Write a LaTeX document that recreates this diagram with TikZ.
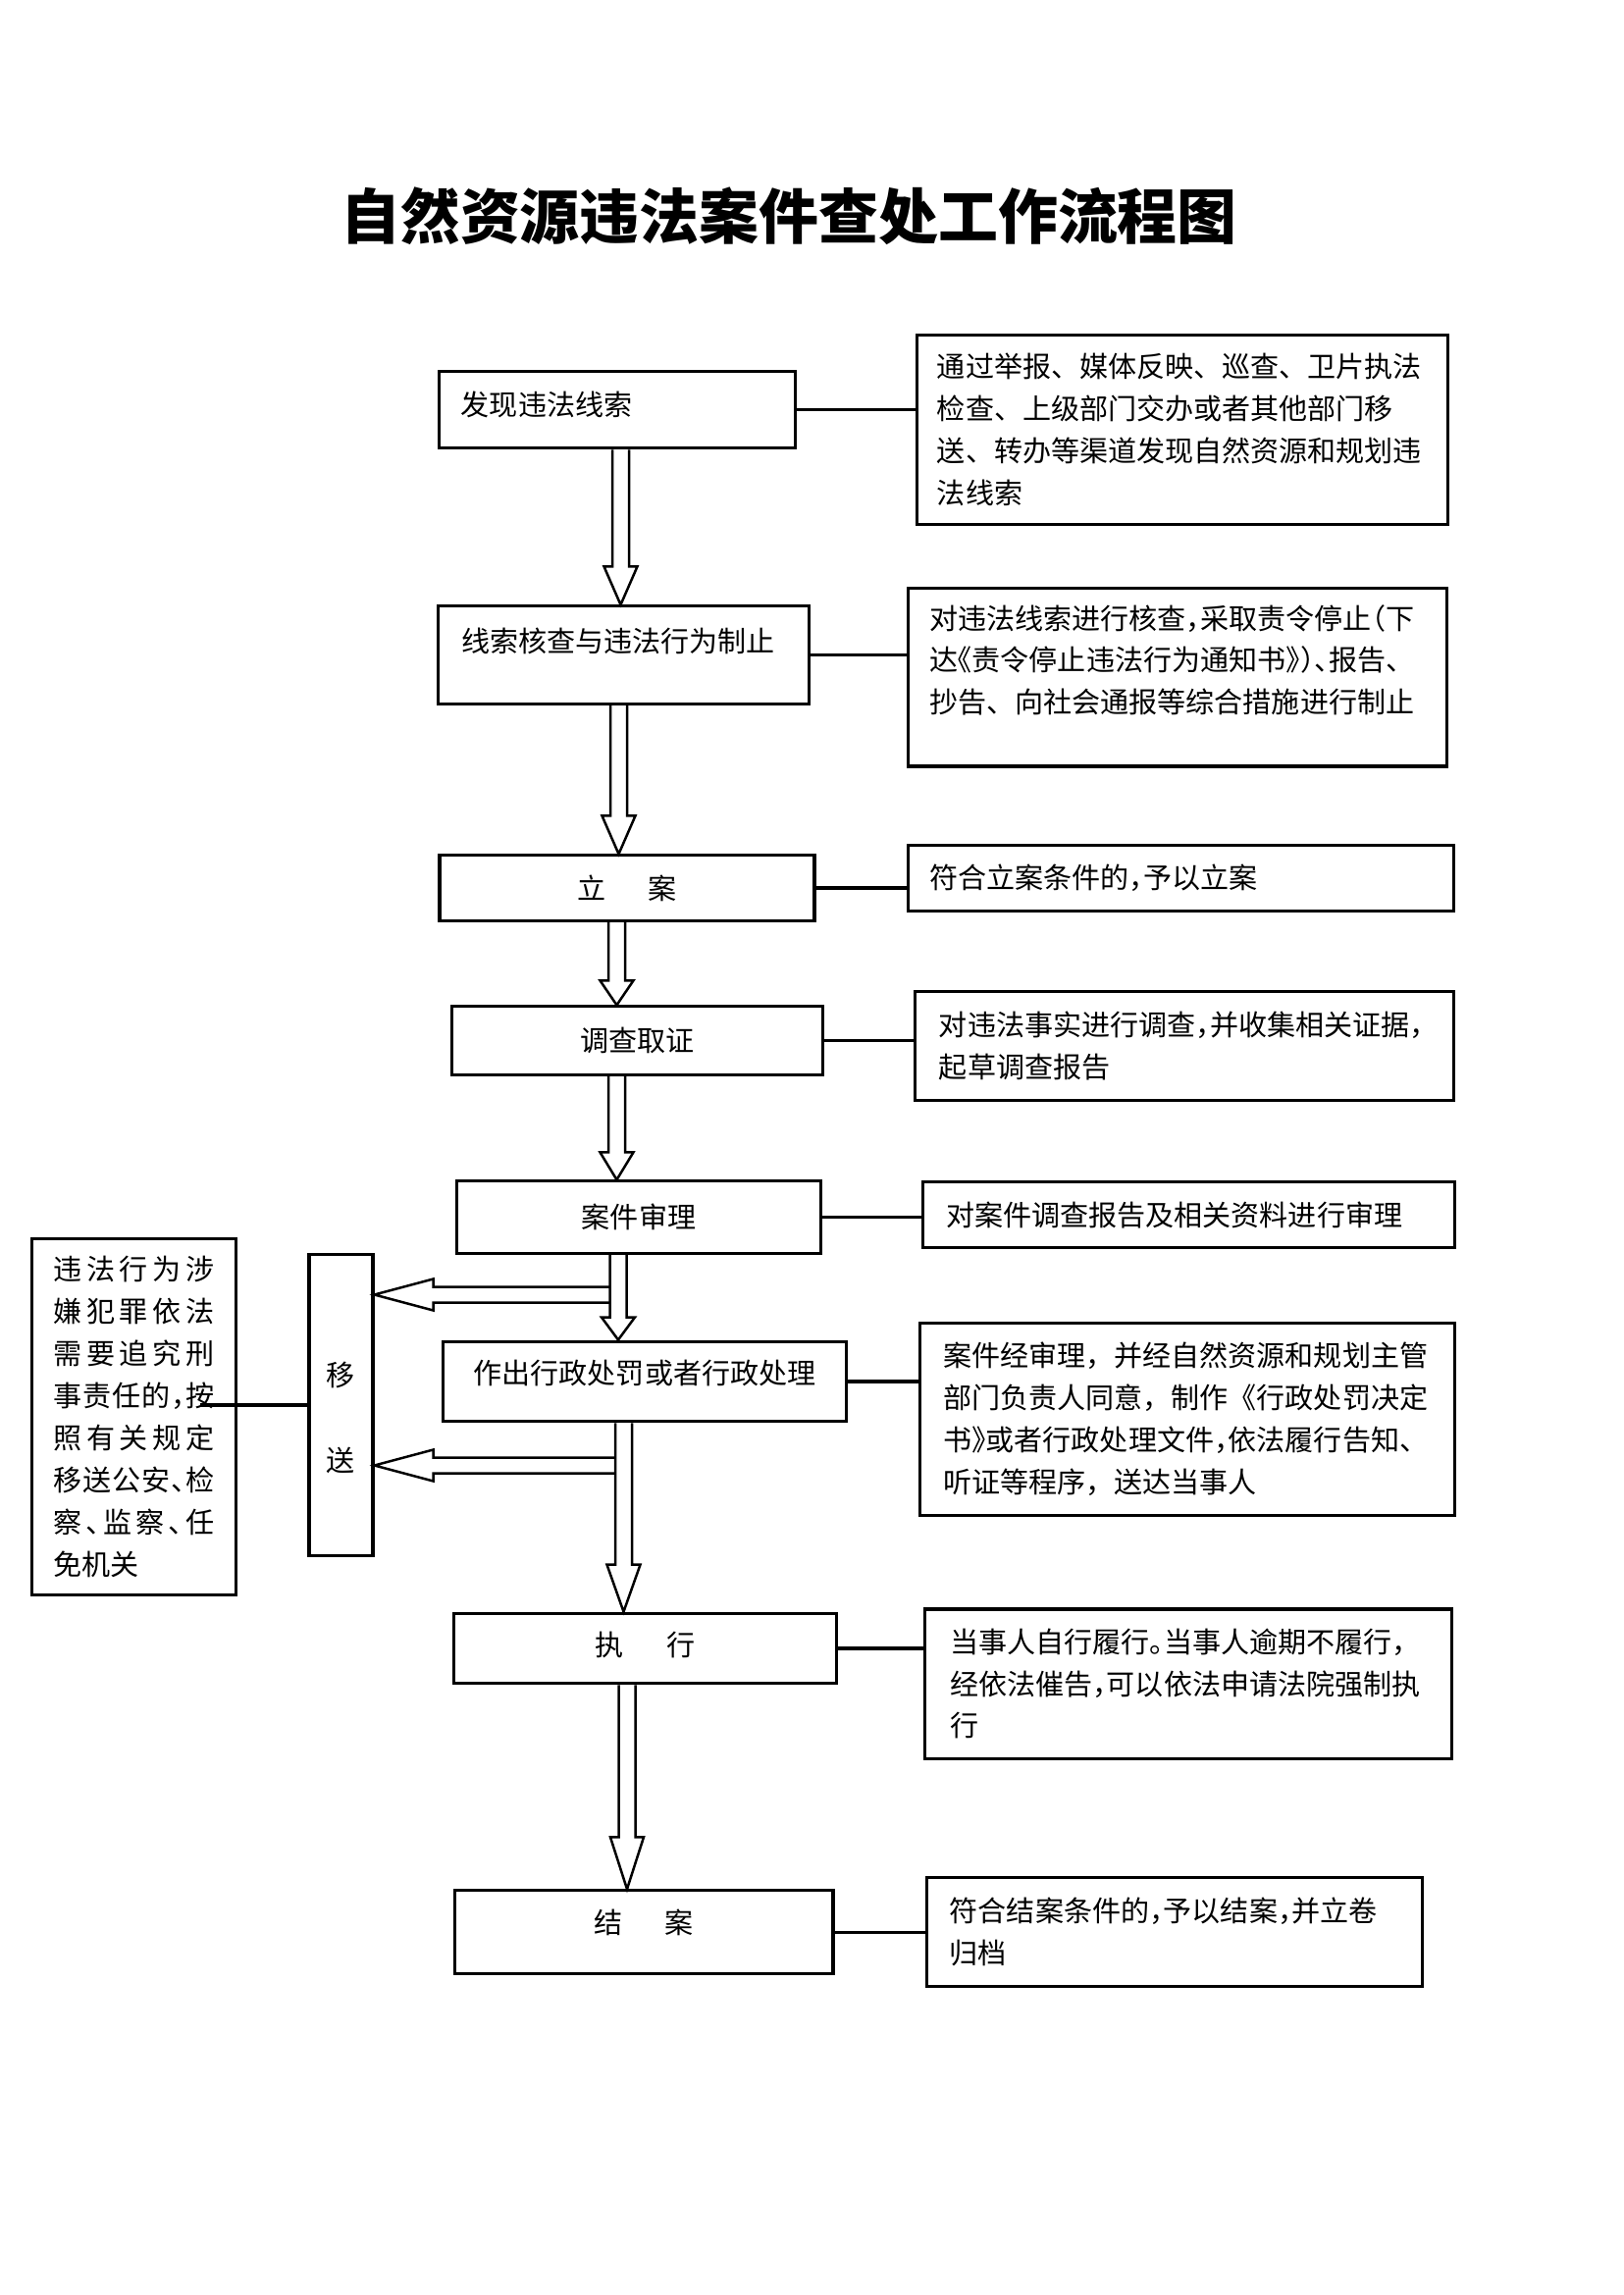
\documentclass[tikz,border=0pt]{standalone}
\usepackage{fontspec}
\setmainfont{Noto Sans CJK SC}
\usetikzlibrary{calc}

\newcommand\wuhao{\fontsize{10.5pt}{15.5pt}\selectfont}
\newcommand\halfl[1]{\makebox[.5em][l]{#1}}
\newcommand\halfr[1]{\makebox[.5em][r]{#1}}
\newcommand\spreadline[1]{\makebox[20.8mm][s]{#1}}
\newcommand\bigarrow[4]{%
  \draw[hollow] ($(#2.south -| #1,0)+(-8.5,0)$) -- ($(#3.north -| #1,0)+(-8.5,-#4)$)
    -- ++(-8.5,0) -- (#3.north -| #1,0) -- ++(17,-#4) -- ++(-8.5,0)
    -- ($(#2.south -| #1,0)+(8.5,0)$);}
\newcommand\sendarrow[3]{%
  \draw[hollow] ($(#1)+(0,-8)$) -- ($(#2.east |- #1)+(#3,-8)$) -- ++(0,-8)
    -- (#2.east |- #1) -- ++(#3,16) -- ++(0,-8) -- ($(#1)+(0,8)$);}

\tikzset{
  stepbox/.style={draw, line width=1.1pt, inner sep=0pt, font=\wuhao},
  notebox/.style={draw, line width=1.1pt, inner sep=0pt, align=left, font=\wuhao},
  link/.style={line width=1.1pt},
  hollow/.style={line width=0.9pt, line join=miter},
}

\begin{document}
\begin{tikzpicture}[x=0.126965mm, y=-0.126965mm]
    \useasboundingbox (0,0) rectangle (1654,2339);
    \node[font=\fontsize{22pt}{26pt}\selectfont\bfseries] (title) at (804,220) {自然资源违法案件查处工作流程图};

    \node[stepbox, minimum width=46.2mm, minimum height=10mm, text width=40.4mm, align=left, text depth=1.5mm] (b1) at (629,417.5) {发现违法线索};
    \node[stepbox, minimum width=47.9mm, minimum height=12.6mm, text width=42mm, align=left, text depth=4mm] (b2) at (635.5,667.5) {线索核查与违法行为制止};
    \node[stepbox, minimum width=48.5mm, minimum height=8.4mm] (b3) at (639,905) {立\hspace{1.5em}案};
    \node[stepbox, minimum width=48.1mm, minimum height=8.8mm] (b4) at (649.5,1060.5) {调查取证};
    \node[stepbox, minimum width=47mm, minimum height=9.3mm] (b5) at (651,1240.5) {案件审理};
    \node[stepbox, minimum width=52.1mm, minimum height=10.4mm, text depth=2.5mm] (b6) at (657,1408) {作出行政处罚或者行政处理};
    \node[stepbox, minimum width=49.6mm, minimum height=9.1mm, text depth=1.2mm] (b7) at (657.5,1680) {执\hspace{1.5em}行};
    \node[stepbox, minimum width=49mm, minimum height=10.7mm, text depth=2.7mm] (b8) at (656,1969) {结\hspace{1.5em}案};
    \node[stepbox, minimum width=8.25mm, minimum height=38.9mm, align=center, text height=17.4mm] (ys) at (347.5,1432) {移\\[5.6mm]送};

    \node[notebox, minimum width=68.6mm, minimum height=24.6mm, text width=63.5mm] (n1) at (1205,438)
        {通过举报、媒体反映、巡查、卫片执法\\检查、上级部门交办或者其他部门移\\送、转办等渠道发现自然资源和规划违\\法线索};
    \node[notebox, minimum width=69.8mm, minimum height=23.1mm, text width=64.2mm, text depth=15.6mm] (n2) at (1200,690)
        {对违法线索进行核查\halfl{，}采取责令停止\halfr{（}下\\达\halfr{《}责令停止违法行为通知书\halfl{》}\halfl{）}\halfl{、}报告、\\抄告、向社会通报等综合措施进行制止};
    \node[notebox, minimum width=70.7mm, minimum height=8.4mm, text width=65.1mm] (n3) at (1203.5,895)
        {符合立案条件的\halfl{，}予以立案};
    \node[notebox, minimum width=69.8mm, minimum height=14mm, text width=63.5mm] (n4) at (1207,1066)
        {对违法事实进行调查\halfl{，}并收集相关证据\halfl{，}\\起草调查报告};
    \node[notebox, minimum width=68.7mm, minimum height=8.4mm, text width=62.8mm] (n5) at (1211.5,1238)
        {对案件调查报告及相关资料进行审理};
    \node[notebox, minimum width=69.1mm, minimum height=24.8mm, text width=63.2mm] (n6) at (1210,1446.5)
        {案件经审理，并经自然资源和规划主管\\部门负责人同意，制作《行政处罚决定\\书\halfl{》}或者行政处理文件\halfl{，}依法履行告知、\\听证等程序，送达当事人};
    \node[notebox, minimum width=68.1mm, minimum height=19.3mm, text width=61.7mm] (n7) at (1211,1716)
        {当事人自行履行\halfl{。}当事人逾期不履行\halfl{，}\\经依法催告\halfl{，}可以依法申请法院强制执\\行};
    \node[notebox, minimum width=64mm, minimum height=14mm, text width=58.2mm] (n8) at (1197,1969)
        {符合结案条件的\halfl{，}予以结案\halfl{，}并立卷\\归档};
    \node[notebox, minimum width=26.5mm, minimum height=46.2mm, text width=20.8mm] (crime) at (136.5,1444)
        {\spreadline{违\hfil 法\hfil 行\hfil 为\hfil 涉}\\
         \spreadline{嫌\hfil 犯\hfil 罪\hfil 依\hfil 法}\\
         \spreadline{需\hfil 要\hfil 追\hfil 究\hfil 刑}\\
         \spreadline{事\hfil 责\hfil 任\hfil 的\hfil\halfl{，}\hfil 按}\\
         \spreadline{照\hfil 有\hfil 关\hfil 规\hfil 定}\\
         \spreadline{移\hfil 送\hfil 公\hfil 安\hfil\halfl{、}\hfil 检}\\
         \spreadline{察\hfil\halfl{、}\hfil 监\hfil 察\hfil\halfl{、}\hfil 任}\\
         免机关};

    \bigarrow{632.5}{b1}{b2}{39}
    \bigarrow{630.5}{b2}{b3}{39}
    \bigarrow{628.5}{b3}{b4}{25}
    \bigarrow{628.5}{b4}{b5}{28}
    \bigarrow{630}{b5}{b6}{23}
    \bigarrow{635.5}{b6}{b7}{48}
    \bigarrow{639}{b7}{b8}{53}
    \coordinate (s1) at (621.5,1319.5);
    \coordinate (s2) at (627,1493.5);
    \sendarrow{s1}{ys}{60}
    \sendarrow{s2}{ys}{60}

    \draw[link] (b1.east) -- (b1.east -| n1.west);
    \draw[link] (b2.east) -- (b2.east -| n2.west);
    \draw[link] (b3.east) -- (b3.east -| n3.west);
    \draw[link] (b4.east) -- (b4.east -| n4.west);
    \draw[link] (b5.east) -- (b5.east -| n5.west);
    \draw[link] (b6.east) -- (b6.east -| n6.west);
    \draw[link] (b7.east) -- (b7.east -| n7.west);
    \draw[link] (b8.east) -- (b8.east -| n8.west);
    \coordinate (cut) at (204,1432);
    \draw[link] (ys.west) -- (cut);
\end{tikzpicture}
\end{document}
